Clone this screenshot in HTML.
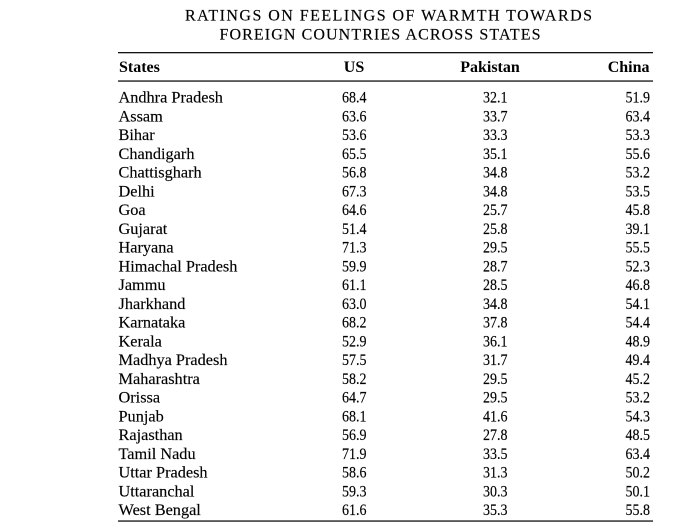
<!DOCTYPE html>
<html>
<head>
<meta charset="utf-8">
<style>
html,body{margin:0;padding:0;background:#fff;}
svg{display:block;}
text{font-family:"Liberation Serif",serif;fill:#000;}
.t{font-size:16px;stroke:#000;stroke-width:0.15px;}
.h{font-size:16px;font-weight:bold;}
.s{font-size:16.3px;stroke:#000;stroke-width:0.15px;}
.n{font-size:16px;stroke:#000;stroke-width:0.15px;}
</style>
</head>
<body>
<svg width="695" height="526" viewBox="0 0 695 526" xmlns="http://www.w3.org/2000/svg">
<rect width="695" height="526" fill="#fff"/>
<text class="t" x="185" y="20.5" textLength="407" lengthAdjust="spacing">RATINGS ON FEELINGS OF WARMTH TOWARDS</text>
<text class="t" x="219.5" y="39.5" textLength="321" lengthAdjust="spacing">FOREIGN COUNTRIES ACROSS STATES</text>

<rect x="118" y="52" width="535" height="1.3" fill="#111"/>
<rect x="118" y="80.4" width="535" height="1.3" fill="#111"/>
<rect x="118" y="520.4" width="535" height="1.3" fill="#111"/>

<text class="h" x="119" y="72">States</text>
<text class="h" x="354" y="72" text-anchor="middle">US</text>
<text class="h" x="490" y="72" text-anchor="middle">Pakistan</text>
<text class="h" x="649.5" y="72" text-anchor="end">China</text>

<g>
<text class="s" x="118.5" y="102.6">Andhra Pradesh</text>
<text class="s" x="118.5" y="121.35">Assam</text>
<text class="s" x="118.5" y="140.1">Bihar</text>
<text class="s" x="118.5" y="158.85">Chandigarh</text>
<text class="s" x="118.5" y="177.6">Chattisgharh</text>
<text class="s" x="118.5" y="196.35">Delhi</text>
<text class="s" x="118.5" y="215.1">Goa</text>
<text class="s" x="118.5" y="233.85">Gujarat</text>
<text class="s" x="118.5" y="252.6">Haryana</text>
<text class="s" x="118.5" y="271.35">Himachal Pradesh</text>
<text class="s" x="118.5" y="290.1">Jammu</text>
<text class="s" x="118.5" y="308.85">Jharkhand</text>
<text class="s" x="118.5" y="327.6">Karnataka</text>
<text class="s" x="118.5" y="346.35">Kerala</text>
<text class="s" x="118.5" y="365.1">Madhya Pradesh</text>
<text class="s" x="118.5" y="383.85">Maharashtra</text>
<text class="s" x="118.5" y="402.6">Orissa</text>
<text class="s" x="118.5" y="421.35">Punjab</text>
<text class="s" x="118.5" y="440.1">Rajasthan</text>
<text class="s" x="118.5" y="458.85">Tamil Nadu</text>
<text class="s" x="118.5" y="477.6">Uttar Pradesh</text>
<text class="s" x="118.5" y="496.35">Uttaranchal</text>
<text class="s" x="118.5" y="515.1">West Bengal</text>
</g>

<g>
<text class="n" x="342" y="102.6" textLength="24.5" lengthAdjust="spacingAndGlyphs">68.4</text>
<text class="n" x="342" y="121.35" textLength="24.5" lengthAdjust="spacingAndGlyphs">63.6</text>
<text class="n" x="342" y="140.1" textLength="24.5" lengthAdjust="spacingAndGlyphs">53.6</text>
<text class="n" x="342" y="158.85" textLength="24.5" lengthAdjust="spacingAndGlyphs">65.5</text>
<text class="n" x="342" y="177.6" textLength="24.5" lengthAdjust="spacingAndGlyphs">56.8</text>
<text class="n" x="342" y="196.35" textLength="24.5" lengthAdjust="spacingAndGlyphs">67.3</text>
<text class="n" x="342" y="215.1" textLength="24.5" lengthAdjust="spacingAndGlyphs">64.6</text>
<text class="n" x="342" y="233.85" textLength="24.5" lengthAdjust="spacingAndGlyphs">51.4</text>
<text class="n" x="342" y="252.6" textLength="24.5" lengthAdjust="spacingAndGlyphs">71.3</text>
<text class="n" x="342" y="271.35" textLength="24.5" lengthAdjust="spacingAndGlyphs">59.9</text>
<text class="n" x="342" y="290.1" textLength="24.5" lengthAdjust="spacingAndGlyphs">61.1</text>
<text class="n" x="342" y="308.85" textLength="24.5" lengthAdjust="spacingAndGlyphs">63.0</text>
<text class="n" x="342" y="327.6" textLength="24.5" lengthAdjust="spacingAndGlyphs">68.2</text>
<text class="n" x="342" y="346.35" textLength="24.5" lengthAdjust="spacingAndGlyphs">52.9</text>
<text class="n" x="342" y="365.1" textLength="24.5" lengthAdjust="spacingAndGlyphs">57.5</text>
<text class="n" x="342" y="383.85" textLength="24.5" lengthAdjust="spacingAndGlyphs">58.2</text>
<text class="n" x="342" y="402.6" textLength="24.5" lengthAdjust="spacingAndGlyphs">64.7</text>
<text class="n" x="342" y="421.35" textLength="24.5" lengthAdjust="spacingAndGlyphs">68.1</text>
<text class="n" x="342" y="440.1" textLength="24.5" lengthAdjust="spacingAndGlyphs">56.9</text>
<text class="n" x="342" y="458.85" textLength="24.5" lengthAdjust="spacingAndGlyphs">71.9</text>
<text class="n" x="342" y="477.6" textLength="24.5" lengthAdjust="spacingAndGlyphs">58.6</text>
<text class="n" x="342" y="496.35" textLength="24.5" lengthAdjust="spacingAndGlyphs">59.3</text>
<text class="n" x="342" y="515.1" textLength="24.5" lengthAdjust="spacingAndGlyphs">61.6</text>
</g>

<g>
<text class="n" x="483" y="102.6" textLength="24.5" lengthAdjust="spacingAndGlyphs">32.1</text>
<text class="n" x="483" y="121.35" textLength="24.5" lengthAdjust="spacingAndGlyphs">33.7</text>
<text class="n" x="483" y="140.1" textLength="24.5" lengthAdjust="spacingAndGlyphs">33.3</text>
<text class="n" x="483" y="158.85" textLength="24.5" lengthAdjust="spacingAndGlyphs">35.1</text>
<text class="n" x="483" y="177.6" textLength="24.5" lengthAdjust="spacingAndGlyphs">34.8</text>
<text class="n" x="483" y="196.35" textLength="24.5" lengthAdjust="spacingAndGlyphs">34.8</text>
<text class="n" x="483" y="215.1" textLength="24.5" lengthAdjust="spacingAndGlyphs">25.7</text>
<text class="n" x="483" y="233.85" textLength="24.5" lengthAdjust="spacingAndGlyphs">25.8</text>
<text class="n" x="483" y="252.6" textLength="24.5" lengthAdjust="spacingAndGlyphs">29.5</text>
<text class="n" x="483" y="271.35" textLength="24.5" lengthAdjust="spacingAndGlyphs">28.7</text>
<text class="n" x="483" y="290.1" textLength="24.5" lengthAdjust="spacingAndGlyphs">28.5</text>
<text class="n" x="483" y="308.85" textLength="24.5" lengthAdjust="spacingAndGlyphs">34.8</text>
<text class="n" x="483" y="327.6" textLength="24.5" lengthAdjust="spacingAndGlyphs">37.8</text>
<text class="n" x="483" y="346.35" textLength="24.5" lengthAdjust="spacingAndGlyphs">36.1</text>
<text class="n" x="483" y="365.1" textLength="24.5" lengthAdjust="spacingAndGlyphs">31.7</text>
<text class="n" x="483" y="383.85" textLength="24.5" lengthAdjust="spacingAndGlyphs">29.5</text>
<text class="n" x="483" y="402.6" textLength="24.5" lengthAdjust="spacingAndGlyphs">29.5</text>
<text class="n" x="483" y="421.35" textLength="24.5" lengthAdjust="spacingAndGlyphs">41.6</text>
<text class="n" x="483" y="440.1" textLength="24.5" lengthAdjust="spacingAndGlyphs">27.8</text>
<text class="n" x="483" y="458.85" textLength="24.5" lengthAdjust="spacingAndGlyphs">33.5</text>
<text class="n" x="483" y="477.6" textLength="24.5" lengthAdjust="spacingAndGlyphs">31.3</text>
<text class="n" x="483" y="496.35" textLength="24.5" lengthAdjust="spacingAndGlyphs">30.3</text>
<text class="n" x="483" y="515.1" textLength="24.5" lengthAdjust="spacingAndGlyphs">35.3</text>
</g>

<g>
<text class="n" x="625.5" y="102.6" textLength="24.5" lengthAdjust="spacingAndGlyphs">51.9</text>
<text class="n" x="625.5" y="121.35" textLength="24.5" lengthAdjust="spacingAndGlyphs">63.4</text>
<text class="n" x="625.5" y="140.1" textLength="24.5" lengthAdjust="spacingAndGlyphs">53.3</text>
<text class="n" x="625.5" y="158.85" textLength="24.5" lengthAdjust="spacingAndGlyphs">55.6</text>
<text class="n" x="625.5" y="177.6" textLength="24.5" lengthAdjust="spacingAndGlyphs">53.2</text>
<text class="n" x="625.5" y="196.35" textLength="24.5" lengthAdjust="spacingAndGlyphs">53.5</text>
<text class="n" x="625.5" y="215.1" textLength="24.5" lengthAdjust="spacingAndGlyphs">45.8</text>
<text class="n" x="625.5" y="233.85" textLength="24.5" lengthAdjust="spacingAndGlyphs">39.1</text>
<text class="n" x="625.5" y="252.6" textLength="24.5" lengthAdjust="spacingAndGlyphs">55.5</text>
<text class="n" x="625.5" y="271.35" textLength="24.5" lengthAdjust="spacingAndGlyphs">52.3</text>
<text class="n" x="625.5" y="290.1" textLength="24.5" lengthAdjust="spacingAndGlyphs">46.8</text>
<text class="n" x="625.5" y="308.85" textLength="24.5" lengthAdjust="spacingAndGlyphs">54.1</text>
<text class="n" x="625.5" y="327.6" textLength="24.5" lengthAdjust="spacingAndGlyphs">54.4</text>
<text class="n" x="625.5" y="346.35" textLength="24.5" lengthAdjust="spacingAndGlyphs">48.9</text>
<text class="n" x="625.5" y="365.1" textLength="24.5" lengthAdjust="spacingAndGlyphs">49.4</text>
<text class="n" x="625.5" y="383.85" textLength="24.5" lengthAdjust="spacingAndGlyphs">45.2</text>
<text class="n" x="625.5" y="402.6" textLength="24.5" lengthAdjust="spacingAndGlyphs">53.2</text>
<text class="n" x="625.5" y="421.35" textLength="24.5" lengthAdjust="spacingAndGlyphs">54.3</text>
<text class="n" x="625.5" y="440.1" textLength="24.5" lengthAdjust="spacingAndGlyphs">48.5</text>
<text class="n" x="625.5" y="458.85" textLength="24.5" lengthAdjust="spacingAndGlyphs">63.4</text>
<text class="n" x="625.5" y="477.6" textLength="24.5" lengthAdjust="spacingAndGlyphs">50.2</text>
<text class="n" x="625.5" y="496.35" textLength="24.5" lengthAdjust="spacingAndGlyphs">50.1</text>
<text class="n" x="625.5" y="515.1" textLength="24.5" lengthAdjust="spacingAndGlyphs">55.8</text>
</g>
</svg>
</body>
</html>
